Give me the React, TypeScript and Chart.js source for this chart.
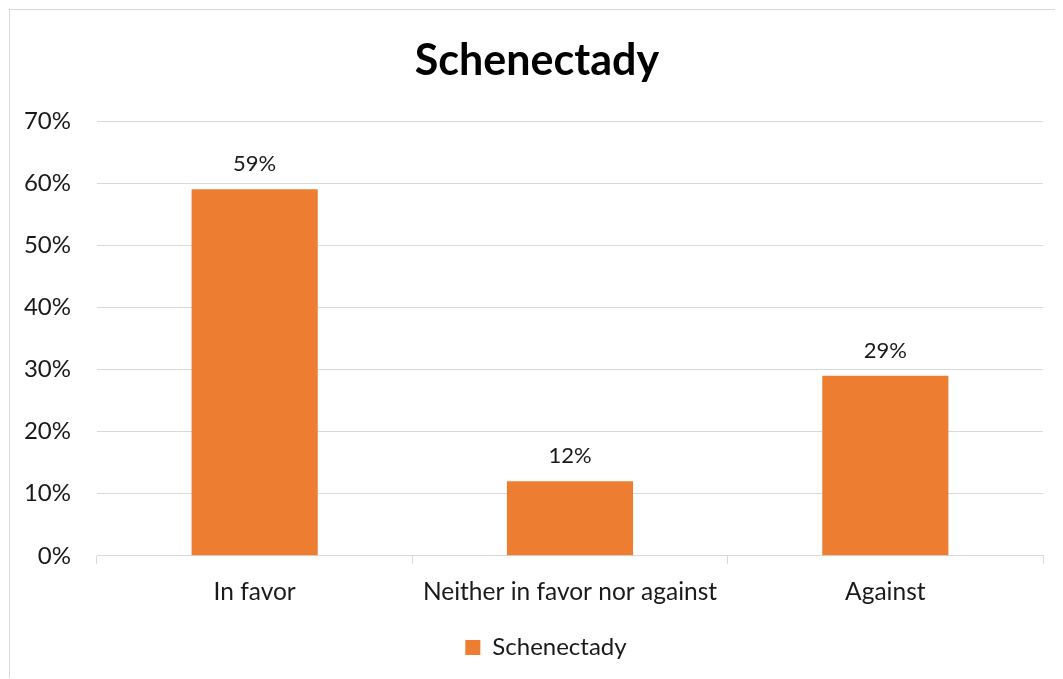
import React, { useEffect, useRef } from "react";
import { Chart, registerables } from "chart.js";

Chart.register(...registerables);

const categories = ["In favor", "Neither in favor nor against", "Against"];
const seriesName = "Schenectady";
const values = [59, 12, 29];
const yMin = 0;
const yMax = 70;
const yStep = 10;

const FONT = "Lato";
const TEXT = "#1a1a1a";
const GRID = "#d9d9d9";
const BAR = "#ED7D31";

export default function App() {
  const ref = useRef<HTMLCanvasElement>(null);

  useEffect(() => {
    if (!ref.current) return;
    const labelPlugin = {
      id: "barLabels",
      afterDatasetsDraw(chart: any) {
        const ctx = chart.ctx;
        const meta = chart.getDatasetMeta(0);
        ctx.save();
        ctx.font = `22px ${FONT}`;
        ctx.fillStyle = TEXT;
        ctx.textAlign = "center";
        ctx.textBaseline = "middle";
        meta.data.forEach((el: any, i: number) => {
          ctx.fillText(values[i] + "%", el.x, el.y - 25);
        });
        ctx.restore();
      },
    };
    const shiftPlugin = {
      id: "shiftBlocks",
      afterLayout(chart: any) {
        const t = chart.titleBlock;
        if (t) {
          t.left += 10.5;
          t.right += 10.5;
        }
        const l = chart.legend;
        if (l) {
          l.left += 19.5;
          l.right += 19.5;
        }
      },
    };
    const chart = new Chart(ref.current, {
      type: "bar",
      data: {
        labels: categories,
        datasets: [
          {
            label: seriesName,
            data: values,
            backgroundColor: BAR,
            categoryPercentage: 1,
            barPercentage: 0.4,
          },
        ],
      },
      options: {
        animation: false,
        responsive: false,
        layout: { padding: { left: 0, right: 20, top: 0, bottom: 9.6 } },
        plugins: {
          title: {
            display: true,
            text: "Schenectady",
            color: "#000",
            font: { family: FONT, size: 43, weight: "bold" },
            padding: { top: 25.2, bottom: 34.2 },
          },
          legend: {
            position: "bottom",
            labels: {
              boxWidth: 15,
              boxHeight: 15,
              color: TEXT,
              font: { family: FONT, size: 24 },
              padding: 6,
            },
          },
          tooltip: { enabled: false },
        },
        scales: {
          x: {
            afterFit: (s: any) => {
              s.height = 73.6;
            },
            grid: {
              display: true,
              drawOnChartArea: false,
              drawTicks: true,
              tickLength: 8,
              color: GRID,
              offset: true,
            },
            border: { color: GRID },
            ticks: {
              color: TEXT,
              font: { family: FONT, size: 24.5 },
              padding: 13.6,
              maxRotation: 0,
            },
          },
          y: {
            min: yMin,
            max: yMax,
            afterFit: (s: any) => {
              s.width = 87;
            },
            ticks: {
              stepSize: yStep,
              color: TEXT,
              font: { family: FONT, size: 24 },
              padding: 26,
              callback: (v: any) => v + "%",
            },
            grid: { color: GRID, drawTicks: false },
            border: { display: false },
          },
        },
      },
      plugins: [labelPlugin, shiftPlugin],
    });
    return () => chart.destroy();
  }, []);

  return (
    <div
      style={{
        position: "relative",
        left: 1,
        top: 1,
        width: 1053,
        height: 669,
        borderLeft: `1px solid ${GRID}`,
        borderTop: `1px solid ${GRID}`,
        background: "#fff",
      }}
    >
      <canvas ref={ref} width={1053} height={669} style={{ display: "block" }} />
    </div>
  );
}
